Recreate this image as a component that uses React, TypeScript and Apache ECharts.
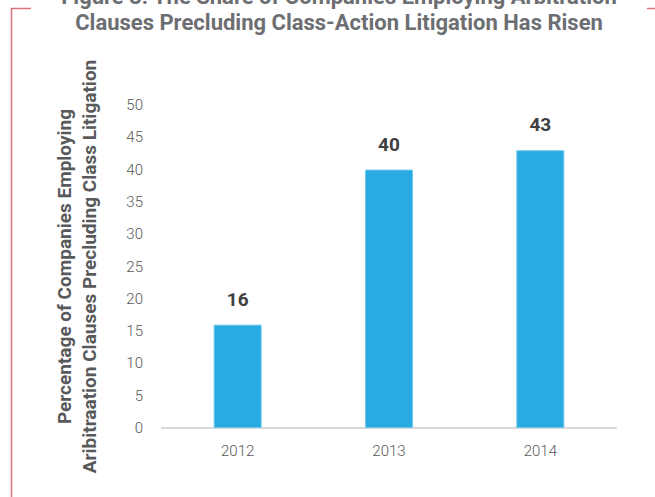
import React, { useEffect, useRef } from "react";
import * as echarts from "echarts";

const categories = ["2012", "2013", "2014"];
const values = [16, 40, 43];
const titleLine1 = "Figure 3: The Share of Companies Employing Arbitration";
const titleLine2 = "Clauses Precluding Class-Action Litigation Has Risen";
const yName = "Percentage of Companies Employing\nAribitraation Clauses Precluding Class Litigation";

const boldFont = "Roboto, 'Liberation Sans', sans-serif";

export default function App() {
  const ref = useRef<HTMLDivElement>(null);
  useEffect(() => {
    if (!ref.current) return;
    const chart = echarts.init(ref.current, undefined, { renderer: "svg" });
    chart.setOption({
      animation: false,
      backgroundColor: "#ffffff",
      grid: { left: 162, right: 39, top: 105, bottom: 69 },
      xAxis: {
        type: "category",
        data: categories,
        axisLine: { show: true, lineStyle: { color: "#d9d9d9", width: 2 } },
        axisTick: { show: false },
        axisLabel: { margin: 15, color: "#595959", fontSize: 15, fontFamily: "Roboto, sans-serif", fontWeight: 300 },
      },
      yAxis: {
        type: "value",
        min: 0,
        max: 50,
        interval: 5,
        name: yName,
        nameLocation: "middle",
        nameGap: 60,
        nameTextStyle: {
          color: "#58595b",
          fontSize: 19,
          fontWeight: "bold",
          fontFamily: boldFont,
          lineHeight: 25,
          align: "center",
        },
        axisLine: { show: false },
        axisTick: { show: false },
        splitLine: { show: false },
        axisLabel: { margin: 19, color: "#595959", fontSize: 15, fontFamily: "Roboto, sans-serif", fontWeight: 300 },
      },
      series: [
        {
          type: "bar",
          data: values,
          barWidth: 48,
          itemStyle: { color: "#29abe2", borderColor: "#6cc6ee", borderWidth: 1 },
          label: {
            show: true,
            position: "top",
            distance: 16,
            color: "#404041",
            fontSize: 19,
            fontWeight: "bold",
            fontFamily: boldFont,
          },
        },
      ],
      graphic: [
        {
          type: "text",
          x: 339,
          y: -4,
          style: {
            text: titleLine1,
            align: "center",
            verticalAlign: "middle",
            fill: "#6d6e71",
            fontSize: 22,
            fontWeight: "bold",
            fontFamily: boldFont,
          },
        },
        {
          type: "text",
          x: 339,
          y: 22,
          style: {
            text: titleLine2,
            align: "center",
            verticalAlign: "middle",
            fill: "#6d6e71",
            fontSize: 22,
            fontWeight: "bold",
            fontFamily: boldFont,
          },
        },
        {
          type: "polyline",
          shape: { points: [[11.5, 497], [11.5, 8.5], [31, 8.5]] },
          style: { stroke: "#d9737b", lineWidth: 1.5, fill: "none" },
        },
        {
          type: "line",
          shape: { x1: 647, y1: 8.5, x2: 655, y2: 8.5 },
          style: { stroke: "#d9737b", lineWidth: 1.5 },
        },
      ],
    });
    return () => chart.dispose();
  }, []);
  return <div ref={ref} style={{ position: "absolute", left: 0, top: 0, width: 655, height: 497 }} />;
}
